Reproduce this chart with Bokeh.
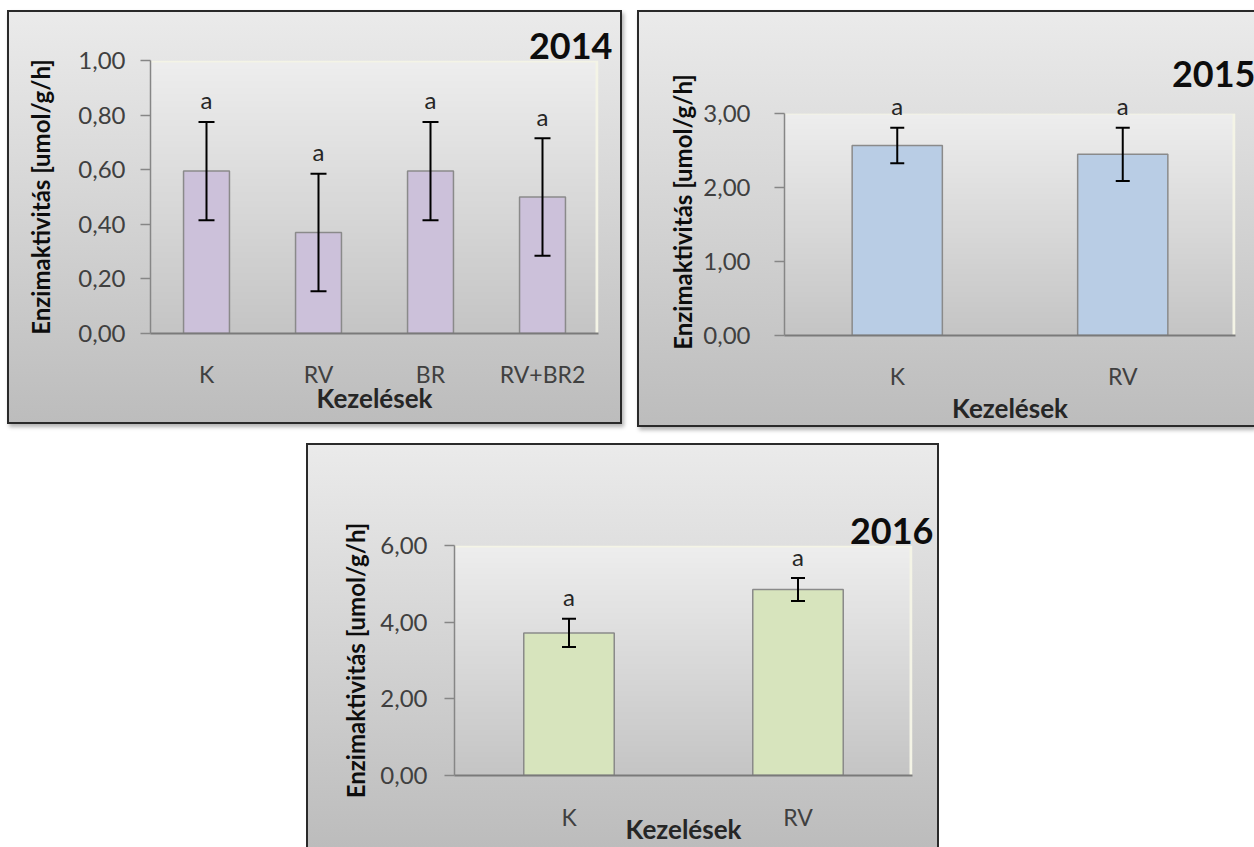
import numpy as np
from bokeh.plotting import figure
from bokeh.models import (ColumnDataSource, Whisker, TeeHead, FixedTicker, Spacer,
                          Range1d, FactorRange, LinearAxis, Title)
from bokeh.layouts import row, column
from bokeh.core.properties import value
from bokeh.embed import file_html
from bokeh.resources import INLINE

# ---- data -------------------------------------------------------------
treat_2014 = ["K", "RV", "BR", "RV+BR2"]
mean_2014 = [0.595, 0.37, 0.595, 0.50]
err_2014 = [0.18, 0.215, 0.18, 0.215]
letters_2014 = ["a", "a", "a", "a"]
yticks_2014 = [0.0, 0.2, 0.4, 0.6, 0.8, 1.0]
ylabels_2014 = ["0,00", "0,20", "0,40", "0,60", "0,80", "1,00"]

treat_2015 = ["K", "RV"]
mean_2015 = [2.57, 2.45]
err_2015 = [0.24, 0.36]
letters_2015 = ["a", "a"]
yticks_2015 = [0, 1, 2, 3]
ylabels_2015 = ["0,00", "1,00", "2,00", "3,00"]

treat_2016 = ["K", "RV"]
mean_2016 = [3.72, 4.85]
err_2016 = [0.37, 0.30]
letters_2016 = ["a", "a"]
yticks_2016 = [0, 2, 4, 6]
ylabels_2016 = ["0,00", "2,00", "4,00", "6,00"]

Y_TITLE = "Enzimaktivitás [umol/g/h]"
X_TITLE = "Kezelések"
FONT = "Lato"


def frame_gradient(rows=128, cols=160):
    """Vertical grey gradient for the plotting area, with a pale edge on top/right."""
    t = np.linspace(0.0, 1.0, rows)[:, None]
    top = np.array([238, 238, 238], dtype=float)
    bot = np.array([197, 197, 197], dtype=float)
    rgb = bot + (top - bot) * t
    img = np.empty((rows, cols), dtype=np.uint32)
    view = img.view(dtype=np.uint8).reshape((rows, cols, 4))
    view[..., :3] = rgb[:, None, :].astype(np.uint8)
    view[..., 3] = 255
    view[:, -1, :3] = [244, 244, 230]
    view[-1, :, :3] = [244, 244, 230]
    return img


def gap_axis(size):
    """A tick-less axis (nothing is drawn) that only reserves room above the plotting area."""
    return LinearAxis(ticker=FixedTicker(ticks=[]), axis_line_color=None,
                      major_tick_out=size, major_tick_in=0,
                      minor_tick_out=0, minor_tick_in=0,
                      major_label_standoff=0, axis_label_standoff=0)


def make_panel(year, cats, means, errs, letters, yticks, ylabels, ymax, yview, bar_color,
               width, height, borders, ylab_standoff, ytitle_standoff,
               xlab_standoff, xtitle_standoff, title_offset, title_gap,
               bar_width, cap, frame_css):
    left, top, right, bottom = borders
    p = figure(x_range=FactorRange(*cats), y_range=Range1d(0, yview),
               width=width, height=height, output_backend="svg", toolbar_location=None,
               min_border_left=left, min_border_top=top,
               min_border_right=right, min_border_bottom=bottom)
    if "frame_align" in p.properties():
        p.frame_align = False
    p.styles = frame_css
    p.background_fill_color = None
    p.border_fill_color = None
    p.outline_line_color = None
    p.xgrid.visible = False
    p.ygrid.visible = False

    # empty band between the plotting area and the year heading
    if title_gap:
        p.add_layout(gap_axis(title_gap), "above")

    # year heading at the top right of the panel, stacked outside the empty band
    p.add_layout(Title(text=str(year), align="right", vertical_align="top",
                       text_font=FONT, text_font_style="bold", text_font_size="36px",
                       text_color="#0d0d0d", offset=title_offset, standoff=0), "above")

    n = len(cats)
    p.image_rgba(image=[frame_gradient()], x=0, y=0, dw=n, dh=ymax)

    src = ColumnDataSource(dict(
        cat=cats, mean=means,
        upper=[m + e for m, e in zip(means, errs)],
        lower=[m - e for m, e in zip(means, errs)],
        letter=letters,
    ))
    p.vbar(x="cat", top="mean", width=bar_width, source=src,
           fill_color=bar_color, line_color="#8a8a8a", line_width=1.5)

    whisk = Whisker(base="cat", upper="upper", lower="lower", source=src,
                    line_color="black", line_width=2, level="overlay",
                    upper_head=TeeHead(size=cap, line_color="black", line_width=2),
                    lower_head=TeeHead(size=cap, line_color="black", line_width=2))
    p.add_layout(whisk)

    p.text(x="cat", y="upper", text="letter", source=src, y_offset=-22,
           text_align="center", text_baseline="middle",
           text_font=value(FONT), text_font_size="24px", text_color="#262626")

    # y axis
    ya = p.yaxis[0]
    ya.bounds = (0, ymax)
    ya.ticker = FixedTicker(ticks=yticks)
    ya.major_label_overrides = dict(zip(yticks, ylabels))
    ya.axis_line_color = "#868686"
    ya.axis_line_width = 1.5
    ya.major_tick_line_color = "#868686"
    ya.major_tick_line_width = 1.5
    ya.major_tick_out = 10
    ya.major_tick_in = 0
    ya.minor_tick_line_color = None
    ya.major_label_standoff = ylab_standoff
    ya.major_label_text_font = FONT
    ya.major_label_text_font_size = "24px"
    ya.major_label_text_color = "#404040"
    ya.axis_label = Y_TITLE
    ya.axis_label_text_font = FONT
    ya.axis_label_text_font_style = "bold"
    ya.axis_label_text_font_size = "24px"
    ya.axis_label_text_color = "#0d0d0d"
    ya.axis_label_standoff = ytitle_standoff

    # x axis
    xa = p.below[0]
    xa.axis_line_color = "#7a7a7a"
    xa.axis_line_width = 2
    xa.major_tick_out = 0
    xa.major_tick_in = 0
    xa.major_tick_line_color = None
    xa.major_label_standoff = xlab_standoff
    xa.major_label_text_font = FONT
    xa.major_label_text_font_size = "23px"
    xa.major_label_text_color = "#404040"
    xa.axis_label = X_TITLE
    xa.axis_label_text_font = FONT
    xa.axis_label_text_font_style = "bold"
    xa.axis_label_text_font_size = "26px"
    xa.axis_label_text_color = "#262626"
    xa.axis_label_standoff = xtitle_standoff
    return p


PANEL_BG = "linear-gradient(180deg, #ebebeb 0%, #bcbcbc 100%)"
SHADOW = "2px 3px 4px rgba(0,0,0,0.30)"
EDGE = "#2a2a2a"

p14 = make_panel(2014, treat_2014, mean_2014, err_2014, letters_2014,
                 yticks_2014, ylabels_2014, 1.0, 1.0, "#ccc1da",
                 width=615, height=414, borders=(143, 50, 24, 91),
                 ylab_standoff=15, ytitle_standoff=20,
                 xlab_standoff=26, xtitle_standoff=-9,
                 title_offset=-14, title_gap=4,
                 bar_width=0.41, cap=16,
                 frame_css={"background": PANEL_BG,
                            "box-shadow": f"inset 0 0 0 2px {EDGE}, {SHADOW}"})

p15 = make_panel(2015, treat_2015, mean_2015, err_2015, letters_2015,
                 yticks_2015, ylabels_2015, 3.0, 3.34, "#b9cde5",
                 width=617, height=417, borders=(147, 78, 19, 92),
                 ylab_standoff=24, ytitle_standoff=3,
                 xlab_standoff=26, xtitle_standoff=-1,
                 title_offset=-20, title_gap=30,
                 bar_width=0.40, cap=14,
                 frame_css={"background": PANEL_BG,
                            "box-shadow": f"inset 2px 0 0 {EDGE}, inset 0 2px 0 {EDGE}, "
                                          f"inset 0 -2px 0 {EDGE}, {SHADOW}"})

p16 = make_panel(2016, treat_2016, mean_2016, err_2016, letters_2016,
                 yticks_2016, ylabels_2016, 6.0, 6.0, "#d7e4bd",
                 width=633, height=404, borders=(148, 102, 27, 70),
                 ylab_standoff=17, ytitle_standoff=7,
                 xlab_standoff=27, xtitle_standoff=-21,
                 title_offset=-21, title_gap=46,
                 bar_width=0.395, cap=14,
                 frame_css={"background": PANEL_BG,
                            "box-shadow": f"inset 2px 0 0 {EDGE}, inset -2px 0 0 {EDGE}, "
                                          f"inset 0 2px 0 {EDGE}"})

layout = column(
    Spacer(height=10),
    row(Spacer(width=7), p14, Spacer(width=15), p15),
    Spacer(height=16),
    row(Spacer(width=306), p16),
)

open("out.html", "w").write(file_html(layout, INLINE, title="Enzimaktivitás"))
